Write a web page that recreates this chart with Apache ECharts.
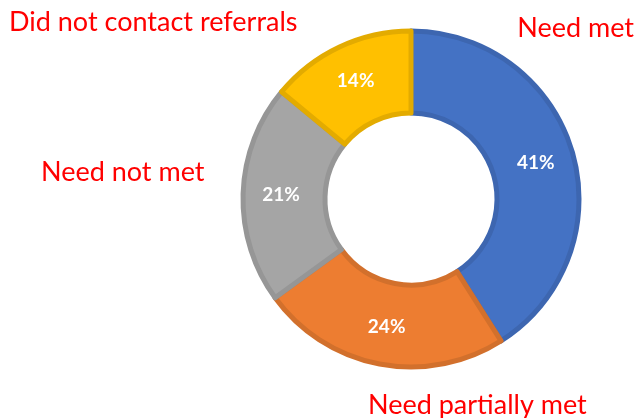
<!DOCTYPE html>
<html>
<head>
<meta charset="utf-8">
<script src="https://cdn.jsdelivr.net/npm/echarts@6/dist/echarts.min.js"></script>
<style>
  html, body { margin: 0; padding: 0; background: #fff; }
  #chart { width: 639px; height: 418px; }
</style>
</head>
<body>
<div id="chart"></div>
<script>
// data
const categories = ['Need met', 'Need partially met', 'Need not met', 'Did not contact referrals'];
const values = [41, 24, 21, 14];
const sliceColors = ['#4472C4', '#ED7D31', '#A5A5A5', '#FFC000'];
const borderColors = ['#3D66B0', '#D2702C', '#969696', '#E3AB00'];

const chart = echarts.init(document.getElementById('chart'));

const redText = (text, opts) => Object.assign({
  type: 'text',
  style: {
    text: text,
    fill: '#FF0000',
    font: '27px Lato, "Open Sans", sans-serif'
  }
}, opts);

chart.setOption({
  backgroundColor: '#fff',
  animation: false,
  series: [{
    type: 'pie',
    center: [411, 199],
    radius: [86, 168],
    startAngle: 90,
    clockwise: true,
    data: categories.map((name, i) => ({
      name: name,
      value: values[i],
      itemStyle: {
        color: sliceColors[i],
        borderColor: borderColors[i],
        borderWidth: 5
      }
    })),
    label: {
      show: true,
      position: 'inside',
      formatter: '{d}%',
      color: '#fff',
      fontWeight: 'bold',
      fontSize: 19,
      fontFamily: 'Lato, "Open Sans", sans-serif'
    },
    labelLine: { show: false },
    emphasis: { disabled: true }
  }],
  graphic: [
    redText('Did not contact referrals', { left: 9, top: 9 }),
    redText('Need met', { right: 5, top: 15 }),
    redText('Need not met', { left: 41, top: 159 }),
    redText('Need partially met', { left: 368, top: 392 })
  ]
});
</script>
</body>
</html>
